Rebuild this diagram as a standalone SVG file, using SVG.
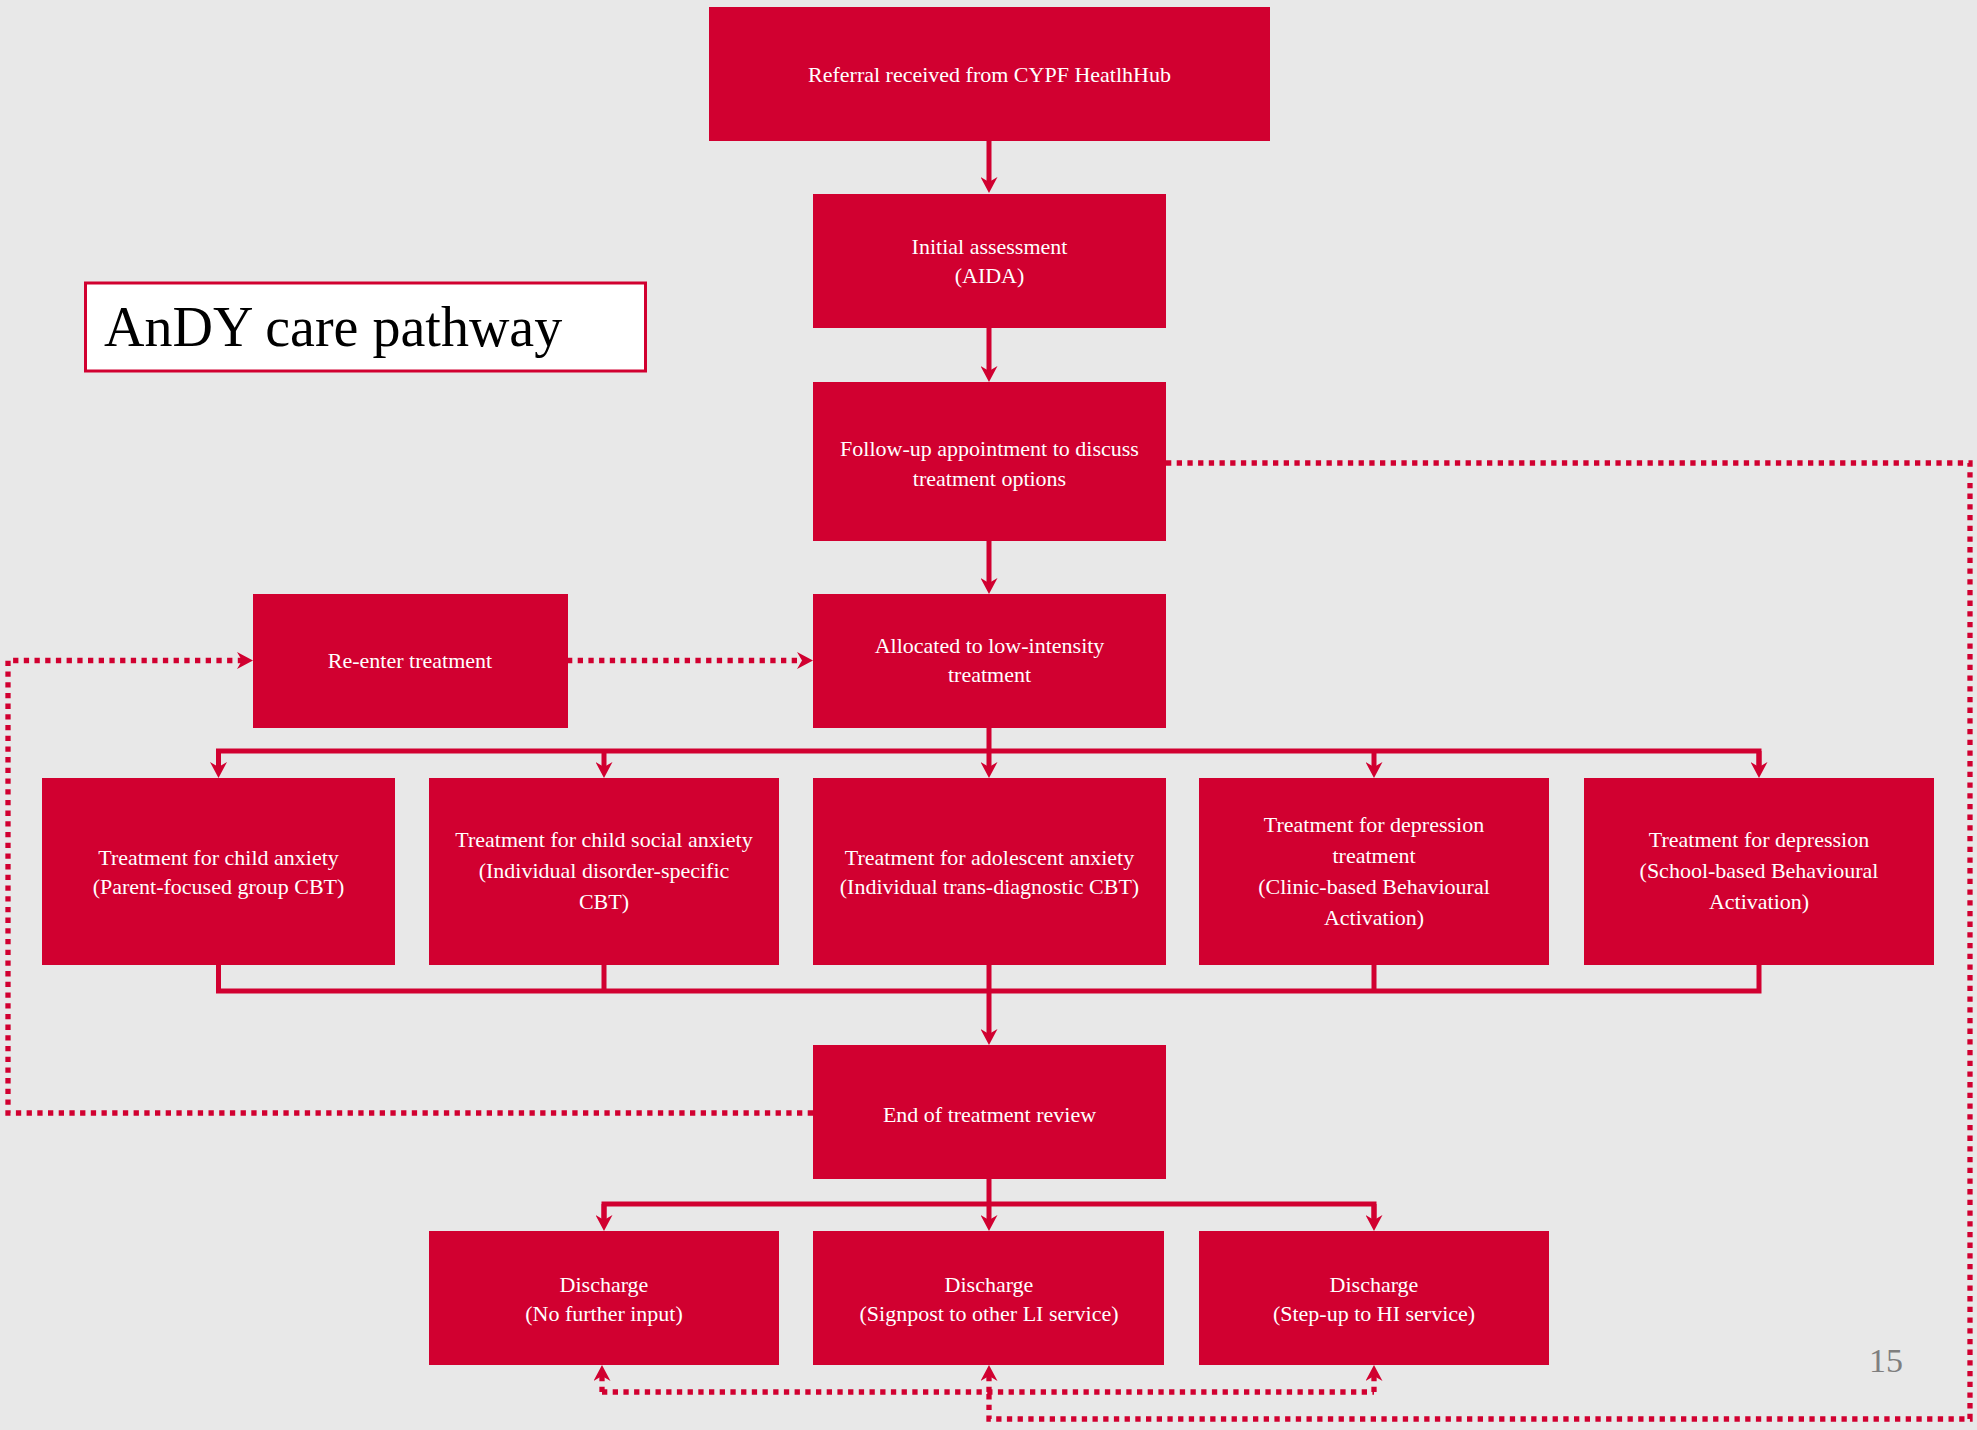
<svg xmlns="http://www.w3.org/2000/svg" width="1977" height="1430" viewBox="0 0 1977 1430">
<style>
.bx{fill:#D10030}
.t{font-family:"Liberation Serif","Times New Roman",serif;font-size:22px;fill:#FFFFFF;text-anchor:middle}
.sl{fill:none;stroke:#D10030;stroke-width:5}
.dl{fill:none;stroke:#D10030;stroke-width:5.3;stroke-dasharray:5.3 5.4}
</style>
<defs>
<marker id="ah" markerUnits="userSpaceOnUse" viewBox="0 0 16 17" markerWidth="16" markerHeight="17" refX="8" refY="8.5" orient="auto">
<path d="M0,0 L16,8.5 L0,17 L5,8.5 Z" fill="#D10030"/>
</marker>
</defs>
<rect width="1977" height="1430" fill="#E8E8E8"/>

<g id="title">
<rect x="85.5" y="283" width="560" height="88" fill="#FFFFFF" stroke="#D10030" stroke-width="3"/>
<text x="104" y="346" style="font-family:'Liberation Serif','Times New Roman',serif;font-size:56px;fill:#000000">AnDY care pathway</text>
</g>

<g id="connectors">
<path class="sl" d="M989,141 V185" marker-end="url(#ah)"/>
<path class="sl" d="M989,328 V374" marker-end="url(#ah)"/>
<path class="sl" d="M989,541 V586" marker-end="url(#ah)"/>
<path class="sl" d="M989,728 V770" marker-end="url(#ah)"/>
<path class="sl" d="M218.5,770 V751 H1759 V770" />
<path class="sl" d="M218.5,751 V770" marker-end="url(#ah)"/>
<path class="sl" d="M604,751 V770" marker-end="url(#ah)"/>
<path class="sl" d="M1374,751 V770" marker-end="url(#ah)"/>
<path class="sl" d="M1759,751 V770" marker-end="url(#ah)"/>
<path class="sl" d="M218.5,964 V991 H1759 V964"/>
<path class="sl" d="M604,964 V991"/>
<path class="sl" d="M1374,964 V991"/>
<path class="sl" d="M989,964 V1037" marker-end="url(#ah)"/>
<path class="sl" d="M989,1179 V1223" marker-end="url(#ah)"/>
<path class="sl" d="M604,1223 V1204 H1374 V1223"/>
<path class="sl" d="M604,1204 V1223" marker-end="url(#ah)"/>
<path class="sl" d="M1374,1204 V1223" marker-end="url(#ah)"/>
<path class="dl" d="M567,660.5 H805" marker-end="url(#ah)"/>
<path class="dl" d="M813,1113 H8 V660.5 H245" marker-end="url(#ah)"/>
<path class="dl" d="M1166,463 H1970 V1419 H989 V1392"/>
<path class="dl" d="M602,1392 H1374"/>
<path class="dl" d="M602,1392 V1373" marker-end="url(#ah)"/>
<path class="dl" d="M989,1392 V1373" marker-end="url(#ah)"/>
<path class="dl" d="M1374,1392 V1373" marker-end="url(#ah)"/>
</g>

<g id="referral"><rect class="bx" x="709" y="7" width="561" height="134"/><text class="t" x="989.5" y="82">Referral received from CYPF HeatlhHub</text></g>
<g id="initial"><rect class="bx" x="813" y="194" width="353" height="134"/><text class="t" x="989.5" y="254">Initial assessment</text><text class="t" x="989.5" y="283">(AIDA)</text></g>
<g id="followup"><rect class="bx" x="813" y="382" width="353" height="159"/><text class="t" x="989.5" y="456">Follow-up appointment to discuss</text><text class="t" x="989.5" y="486">treatment options</text></g>
<g id="allocated"><rect class="bx" x="813" y="594" width="353" height="134"/><text class="t" x="989.5" y="653">Allocated to low-intensity</text><text class="t" x="989.5" y="682">treatment</text></g>
<g id="reenter"><rect class="bx" x="253" y="594" width="315" height="134"/><text class="t" x="410" y="668">Re-enter treatment</text></g>

<g id="tx1"><rect class="bx" x="42" y="778" width="353" height="187"/><text class="t" x="218.5" y="865">Treatment for child anxiety</text><text class="t" x="218.5" y="894">(Parent-focused group CBT)</text></g>
<g id="tx2"><rect class="bx" x="429" y="778" width="350" height="187"/><text class="t" x="604" y="847">Treatment for child social anxiety</text><text class="t" x="604" y="878">(Individual disorder-specific</text><text class="t" x="604" y="909">CBT)</text></g>
<g id="tx3"><rect class="bx" x="813" y="778" width="353" height="187"/><text class="t" x="989.5" y="865">Treatment for adolescent anxiety</text><text class="t" x="989.5" y="894">(Individual trans-diagnostic CBT)</text></g>
<g id="tx4"><rect class="bx" x="1199" y="778" width="350" height="187"/><text class="t" x="1374" y="832">Treatment for depression</text><text class="t" x="1374" y="863">treatment</text><text class="t" x="1374" y="894">(Clinic-based Behavioural</text><text class="t" x="1374" y="925">Activation)</text></g>
<g id="tx5"><rect class="bx" x="1584" y="778" width="350" height="187"/><text class="t" x="1759" y="847">Treatment for depression</text><text class="t" x="1759" y="878">(School-based Behavioural</text><text class="t" x="1759" y="909">Activation)</text></g>

<g id="review"><rect class="bx" x="813" y="1045" width="353" height="134"/><text class="t" x="989.5" y="1122">End of treatment review</text></g>

<g id="dis1"><rect class="bx" x="429" y="1231" width="350" height="134"/><text class="t" x="604" y="1292">Discharge</text><text class="t" x="604" y="1321">(No further input)</text></g>
<g id="dis2"><rect class="bx" x="813" y="1231" width="351" height="134"/><text class="t" x="989" y="1292">Discharge</text><text class="t" x="989" y="1321">(Signpost to other LI service)</text></g>
<g id="dis3"><rect class="bx" x="1199" y="1231" width="350" height="134"/><text class="t" x="1374" y="1292">Discharge</text><text class="t" x="1374" y="1321">(Step-up to HI service)</text></g>

<text x="1886" y="1372" style="font-family:'Liberation Serif','Times New Roman',serif;font-size:34px;fill:#7F7F7F;text-anchor:middle">15</text>
</svg>
